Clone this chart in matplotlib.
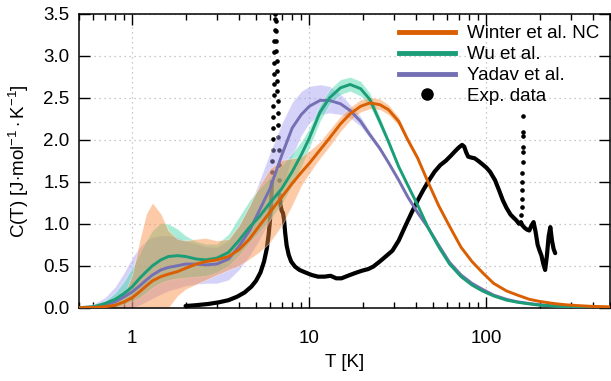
import matplotlib
matplotlib.use("Agg")
import matplotlib.pyplot as plt
from matplotlib.lines import Line2D
import numpy as np

plt.rcParams['font.family'] = ['Liberation Sans', 'DejaVu Sans']
plt.rcParams['mathtext.fontset'] = 'custom'
plt.rcParams['mathtext.rm'] = 'Liberation Sans'
plt.rcParams['mathtext.it'] = 'Liberation Sans:italic'
plt.rcParams['mathtext.bf'] = 'Liberation Sans:bold'

# Temperature grid (K) shared by the model curves and their uncertainty bands
T = [0.5, 0.6, 0.7, 0.8, 0.9, 1.0, 1.1, 1.2, 1.3, 1.45, 1.6, 1.8, 2.0, 2.3, 2.6,
     3.0, 3.5, 4.0, 4.6, 5.2, 6.0, 7.0, 8.0, 9.0, 10, 11.5, 13, 15, 17, 19.5,
     22, 25, 28, 32, 36, 41, 47, 54, 62, 72, 83, 95, 110, 130, 150, 175, 200,
     240, 280, 330, 400, 500]

# Winter et al. NC
winter = [0.0, 0.003, 0.012, 0.03, 0.07, 0.12, 0.19, 0.26, 0.32, 0.37, 0.40, 0.43,
          0.47, 0.52, 0.55, 0.57, 0.61, 0.69, 0.82, 0.97, 1.14, 1.32, 1.48, 1.61,
          1.72, 1.88, 2.02, 2.19, 2.31, 2.40, 2.44, 2.42, 2.36, 2.22, 2.00, 1.78,
          1.49, 1.21, 0.97, 0.72, 0.55, 0.42, 0.29, 0.20, 0.15, 0.10, 0.075, 0.05,
          0.035, 0.025, 0.015, 0.01]
winter_hi = [0.0, 0.005, 0.02, 0.06, 0.15, 0.40, 0.80, 1.12, 1.25, 1.12, 0.92, 0.82,
             0.80, 0.82, 0.83, 0.80, 0.82, 0.98, 1.22, 1.45, 1.66, 1.76, 1.78, 1.80,
             1.87, 1.98, 2.12, 2.28, 2.39, 2.48, 2.51, 2.49, 2.42, 2.27, 2.04, 1.81,
             1.51, 1.22, 0.98, 0.73, 0.56, 0.42, 0.29, 0.20, 0.15, 0.10, 0.075, 0.05,
             0.035, 0.025, 0.015, 0.01]
winter_lo = [0.0, 0.0, 0.0, 0.0, 0.0, 0.0, 0.0, 0.0, 0.0, 0.0, 0.0, 0.14,
             0.22, 0.28, 0.33, 0.39, 0.45, 0.50, 0.58, 0.66, 0.78, 0.98, 1.22, 1.45,
             1.60, 1.78, 1.92, 2.10, 2.23, 2.33, 2.37, 2.36, 2.30, 2.17, 1.96, 1.75,
             1.47, 1.20, 0.96, 0.71, 0.54, 0.42, 0.29, 0.20, 0.15, 0.10, 0.075, 0.05,
             0.035, 0.025, 0.015, 0.01]

# Wu et al.
wu = [0.0, 0.01, 0.05, 0.10, 0.17, 0.25, 0.35, 0.43, 0.50, 0.57, 0.61, 0.62,
      0.61, 0.58, 0.57, 0.59, 0.66, 0.80, 0.96, 1.08, 1.25, 1.42, 1.62, 1.82,
      2.02, 2.33, 2.50, 2.62, 2.66, 2.61, 2.48, 2.22, 1.98, 1.68, 1.46, 1.22,
      0.95, 0.72, 0.52, 0.37, 0.27, 0.20, 0.14, 0.09, 0.065, 0.045, 0.03, 0.02,
      0.013, 0.009, 0.005, 0.003]
wu_hi = [0.0, 0.02, 0.08, 0.18, 0.32, 0.48, 0.65, 0.80, 0.92, 1.01, 1.00, 0.94,
         0.86, 0.79, 0.76, 0.76, 0.88, 1.08, 1.28, 1.42, 1.56, 1.70, 1.84, 1.98,
         2.14, 2.42, 2.60, 2.72, 2.75, 2.70, 2.56, 2.28, 2.02, 1.71, 1.48, 1.23,
         0.96, 0.72, 0.52, 0.37, 0.27, 0.20, 0.14, 0.09, 0.065, 0.045, 0.03, 0.02,
         0.013, 0.009, 0.005, 0.003]
wu_lo = [0.0, 0.0, 0.0, 0.0, 0.04, 0.08, 0.12, 0.18, 0.24, 0.30, 0.33, 0.35,
         0.36, 0.37, 0.38, 0.42, 0.50, 0.62, 0.78, 0.90, 1.05, 1.24, 1.46, 1.68,
         1.90, 2.22, 2.42, 2.54, 2.58, 2.52, 2.40, 2.16, 1.94, 1.65, 1.44, 1.21,
         0.94, 0.72, 0.52, 0.37, 0.27, 0.20, 0.14, 0.09, 0.065, 0.045, 0.03, 0.02,
         0.013, 0.009, 0.005, 0.003]

# Yadav et al.
yadav = [0.0, 0.01, 0.03, 0.07, 0.13, 0.19, 0.26, 0.33, 0.39, 0.45, 0.48, 0.50,
         0.52, 0.52, 0.51, 0.52, 0.58, 0.73, 0.92, 1.15, 1.42, 1.82, 2.14, 2.30,
         2.40, 2.47, 2.47, 2.43, 2.35, 2.22, 2.06, 1.90, 1.73, 1.52, 1.32, 1.13,
         0.95, 0.74, 0.54, 0.39, 0.29, 0.22, 0.15, 0.10, 0.07, 0.05, 0.035, 0.022,
         0.015, 0.01, 0.006, 0.003]
yadav_hi = [0.0, 0.04, 0.12, 0.25, 0.42, 0.60, 0.72, 0.80, 0.84, 0.86, 0.86, 0.84,
            0.80, 0.76, 0.73, 0.72, 0.80, 0.98, 1.22, 1.50, 1.85, 2.20, 2.45, 2.58,
            2.64, 2.66, 2.64, 2.55, 2.42, 2.28, 2.10, 1.93, 1.75, 1.53, 1.33, 1.14,
            0.95, 0.74, 0.54, 0.39, 0.29, 0.22, 0.15, 0.10, 0.07, 0.05, 0.035, 0.022,
            0.015, 0.01, 0.006, 0.003]
yadav_lo = [0.0, 0.0, 0.0, 0.0, 0.0, 0.0, 0.03, 0.07, 0.11, 0.16, 0.20, 0.23,
            0.26, 0.28, 0.29, 0.29, 0.33, 0.45, 0.62, 0.80, 1.05, 1.40, 1.80, 2.05,
            2.20, 2.30, 2.32, 2.30, 2.26, 2.16, 2.02, 1.86, 1.71, 1.51, 1.31, 1.12,
            0.95, 0.74, 0.54, 0.39, 0.29, 0.22, 0.15, 0.10, 0.07, 0.05, 0.035, 0.022,
            0.015, 0.01, 0.006, 0.003]

# Measured heat capacity (continuous part of the scan)
exp_T = [2.0, 2.3, 2.7, 3.1, 3.5, 3.9, 4.3, 4.7, 5.0, 5.3, 5.55, 5.75, 5.9, 6.0,
         6.1, 6.15]
exp_C = [0.02, 0.03, 0.045, 0.065, 0.09, 0.13, 0.18, 0.25, 0.32, 0.42, 0.55, 0.70,
         0.88, 1.05, 1.3, 1.5]
exp2_T = [6.8, 6.9, 7.0, 7.1, 7.2, 7.3, 7.45, 7.65, 7.9, 8.3, 8.8, 9.5, 10.3, 11.2,
          12.2, 13.2, 14.2, 15.2, 16.5, 18, 19.8, 21.5, 23, 25, 27, 29.5, 32, 35,
          38, 41, 44, 47.5, 51, 55, 59, 63, 67, 70, 73, 75, 77, 79, 82, 86, 90, 95,
          100, 105, 112, 118, 124, 130, 137, 143, 148, 153, 157, 160, 165, 170,
          175, 180, 185, 190, 195, 200, 205, 210, 215, 220, 225, 230, 235, 240, 245]
exp2_C = [1.35, 1.2, 1.15, 1.13, 1.05, 0.90, 0.74, 0.63, 0.55, 0.49, 0.45, 0.42,
          0.39, 0.37, 0.37, 0.38, 0.35, 0.35, 0.38, 0.41, 0.44, 0.46, 0.49, 0.55,
          0.61, 0.68, 0.80, 0.98, 1.14, 1.28, 1.40, 1.52, 1.62, 1.70, 1.75, 1.81,
          1.87, 1.91, 1.94, 1.92, 1.85, 1.80, 1.79, 1.78, 1.75, 1.71, 1.67, 1.62,
          1.52, 1.40, 1.28, 1.19, 1.11, 1.07, 1.04, 1.00, 1.02, 0.98, 0.95, 0.93,
          0.92, 0.98, 1.02, 0.90, 0.75, 0.68, 0.62, 0.52, 0.45, 0.62, 0.85, 0.96,
          0.80, 0.70, 0.65]
# Sparse points across the two transitions
spike_T = [6.17, 6.19, 6.2, 6.22, 6.23, 6.25, 6.26, 6.28, 6.29, 6.31, 6.32, 6.34,
           6.35, 6.37, 6.40, 6.43, 6.46, 6.48, 6.50, 6.52, 6.54, 6.56, 6.58, 6.60,
           6.62, 6.64, 6.66, 6.68, 6.70, 6.73, 6.76,
           158, 159, 159, 160, 160, 160, 161, 161, 161, 162, 162, 162]
spike_C = [1.62, 1.75, 1.88, 2.01, 2.14, 2.27, 2.40, 2.53, 2.66, 2.79, 2.92, 3.05,
           3.18, 3.31, 3.44, 3.50, 3.42, 3.30, 3.18, 3.06, 2.94, 2.82, 2.70, 2.58,
           2.46, 2.32, 2.18, 2.03, 1.88, 1.70, 1.52,
           1.10, 1.20, 1.30, 1.40, 1.50, 1.60, 1.74, 1.85, 1.91, 2.05, 2.09, 2.29]

models = [
    ("Winter et al. NC", winter, winter_lo, winter_hi, '#d95f02', '#f98a3a', 5),
    ("Wu et al.", wu, wu_lo, wu_hi, '#1b9e77', '#3fd5a8', 4),
    ("Yadav et al.", yadav, yadav_lo, yadav_hi, '#7570b3', '#a09cf0', 3),
]

FS = 13.5

fig = plt.figure(figsize=(6.11, 3.81), dpi=100)
ax = fig.add_axes([0.1293, 0.1924, 0.8691, 0.7709])

ax.plot(exp_T, exp_C, color='black', lw=3.0, zorder=1, solid_capstyle='round')
ax.plot(exp2_T, exp2_C, color='black', lw=3.0, zorder=1, solid_capstyle='round')
ax.plot(spike_T, spike_C, ls='none', color='black', marker='o', ms=2.3, zorder=1)

# uncertainty bands
for label, mean, lo, hi, col, band, z in [models[2], models[1], models[0]]:
    ax.fill_between(T, lo, hi, color=band, alpha=0.45, lw=0.6,
                    edgecolor=(1, 1, 1, 0.35), zorder=2)

# central curves: Yadav lowest, Winter on top
for label, mean, lo, hi, col, band, z in models:
    ax.plot(T, mean, color=col, lw=2.1, zorder=z, solid_capstyle='round')

ax.set_xscale('log')
ax.set_xlim(0.5, 500)
ax.set_ylim(0, 3.5)
ax.set_xticks([1, 10, 100])
ax.set_xticklabels(['1', '10', '100'])
ax.set_yticks(np.arange(0, 3.51, 0.5))
ax.set_yticklabels([f'{v:.1f}' for v in np.arange(0, 3.51, 0.5)])

ax.tick_params(which='both', direction='in', top=True, right=True, width=1.0,
               labelsize=FS)
ax.tick_params(which='major', length=8)
ax.tick_params(which='minor', length=4.5)
ax.tick_params(axis='x', pad=16)
ax.tick_params(axis='y', pad=7)
for s in ax.spines.values():
    s.set_linewidth(1.1)

ax.grid(True, which='major', color='#b8b8b8', lw=0.9, ls=(0, (1, 3)))
ax.set_axisbelow(True)

ax.set_xlabel('T [K]', fontsize=FS, labelpad=5)
ax.set_ylabel(r'C(T) [J$\cdot$mol$^{-1}\cdot$K$^{-1}$]', fontsize=FS, labelpad=9)

handles = [Line2D([], [], color=m[4], lw=3.5) for m in models]
handles.append(Line2D([], [], color='black', ls='none', marker='o', ms=8))
labels = [m[0] for m in models] + ['Exp. data']
ax.legend(handles, labels, loc='upper right', bbox_to_anchor=(1.0, 1.0),
          frameon=False, fontsize=FS, handlelength=3.0, handletextpad=0.6,
          labelspacing=0.2, borderaxespad=0.2)

fig.savefig('out.png', dpi=100)
